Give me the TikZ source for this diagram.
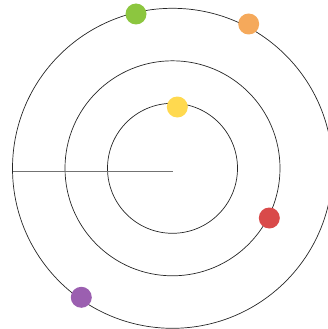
\documentclass[tikz,border=0pt]{standalone}
\begin{document}
\begin{tikzpicture}[x=1pt,y=-1pt,
  orbit/.style={draw=black!85,line width=0.7pt},
  dot/.style={circle,inner sep=0pt,minimum size=21pt,draw=none}]
\definecolor{cgreen}{HTML}{8CC63F}
\definecolor{corange}{HTML}{F5A95B}
\definecolor{cyellow}{HTML}{FFD94F}
\definecolor{cred}{HTML}{D94A4A}
\definecolor{cpurple}{HTML}{9B5FB0}
\useasboundingbox (0,0) rectangle (328,329);
\clip (0,0) rectangle (328,329);
\coordinate (c) at (172.5,168.3);
\draw[orbit] (c) circle (65);
\draw[orbit] (c) circle (107.5);
\draw[orbit] (c) circle (160);
\coordinate (lstart) at (12.5,171.7);
\coordinate (lend) at (172.5,171.7);
\draw[draw=black!55,line width=1.4pt] (lstart) -- (lend);
\node[dot,fill=cgreen] (green) at (136,14) {};
\node[dot,fill=corange] (orange) at (248.7,24) {};
\node[dot,fill=cyellow] (yellow) at (177.3,107) {};
\node[dot,fill=cred] (red) at (269.3,218) {};
\node[dot,fill=cpurple] (purple) at (81.3,297.3) {};
\end{tikzpicture}
\end{document}
